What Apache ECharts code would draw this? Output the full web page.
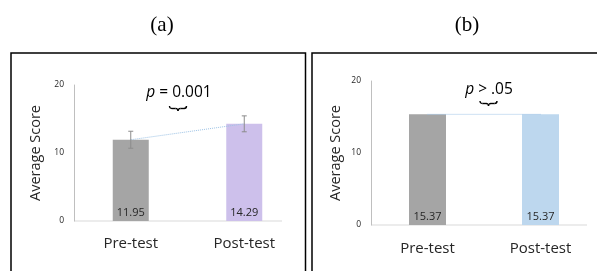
<!DOCTYPE html>
<html><head><meta charset="utf-8">
<script src="https://cdn.jsdelivr.net/npm/echarts@6/dist/echarts.min.js"></script>
<style>html,body{margin:0;padding:0;background:#fff}#c{width:597px;height:271px}</style>
</head><body><div id="c"></div>
<script>
var categories = ['Pre-test', 'Post-test'];
var scoresA = [11.95, 14.29];
var errorA = [1.25, 1.17];
var scoresB = [15.37, 15.37];
var yTicks = [0, 10, 20];
var pTextA = 'p = 0.001';
var pTextB = 'p > .05';

var FONT = '"Open Sans", "Noto Sans", sans-serif';
var chart = echarts.init(document.getElementById('c'), null, {renderer: 'canvas'});

function errItems(vals, errs) {
  return vals.map(function (v, i) { return [i, v - errs[i], v + errs[i]]; });
}
function renderErr(params, api) {
  var x = api.value(0);
  var p1 = api.coord([x, api.value(2)]);
  var p2 = api.coord([x, api.value(1)]);
  var cap = 2.5, st = {stroke: '#8c8c8c', lineWidth: 1};
  return {type: 'group', children: [
    {type: 'line', shape: {x1: p1[0], y1: p1[1], x2: p2[0], y2: p2[1]}, style: st},
    {type: 'line', shape: {x1: p1[0] - cap, y1: p1[1], x2: p1[0] + cap, y2: p1[1]}, style: st},
    {type: 'line', shape: {x1: p2[0] - cap, y1: p2[1], x2: p2[0] + cap, y2: p2[1]}, style: st}
  ]};
}

function xAxisDef(gi, m) {
  return {
    type: 'category', gridIndex: gi, data: categories,
    axisLine: {show: false}, axisTick: {show: false},
    axisLabel: {fontFamily: FONT, fontSize: 15, color: '#262626', margin: m}
  };
}
function yAxisDef(gi, gap) {
  return {
    type: 'value', gridIndex: gi, min: yTicks[0], max: yTicks[yTicks.length - 1], interval: 10,
    name: 'Average Score', nameLocation: 'middle', nameGap: gap,
    nameTextStyle: {fontFamily: FONT, fontSize: 14.5, color: '#262626'},
    axisLine: {show: true, lineStyle: {color: '#bfbfbf', width: 1}},
    axisTick: {show: false}, splitLine: {show: false},
    axisLabel: {fontFamily: FONT, fontSize: 8.5, color: '#262626', margin: 10}
  };
}
var barLabel = {show: true, position: 'insideBottom', distance: 3, fontFamily: FONT, fontSize: 11, color: '#262626'};

function brace(cx, cy) {
  var st = {fill: 'none', stroke: '#000', lineWidth: 1.4};
  function q(x1, y1, cpx, cpy, x2, y2) { return {type: 'bezierCurve', shape: {x1: x1, y1: y1, cpx1: cpx, cpy1: cpy, x2: x2, y2: y2}, style: st}; }
  function l(x1, y1, x2, y2) { return {type: 'line', shape: {x1: x1, y1: y1, x2: x2, y2: y2}, style: st}; }
  return {type: 'group', x: cx, y: cy, children: [
    q(-8.5, -2.5, -8.5, 0, -6, 0), l(-6, 0, -2.5, 0), q(-2.5, 0, 0, 0, 0, 2.5),
    q(0, 2.5, 0, 0, 2.5, 0), l(2.5, 0, 6, 0), q(6, 0, 8.5, 0, 8.5, -2.5)
  ]};
}

var option = {
  animation: false,
  backgroundColor: '#fff',
  title: [
    {text: '(a)', left: 157, top: 10, textAlign: 'center', textStyle: {fontFamily: '"Liberation Serif", serif', fontSize: 21, fontWeight: 'normal', color: '#000'}},
    {text: '(b)', left: 462, top: 10, textAlign: 'center', textStyle: {fontFamily: '"Liberation Serif", serif', fontSize: 21, fontWeight: 'normal', color: '#000'}}
  ],
  grid: [
    {left: 74, top: 85, width: 227, height: 136},
    {left: 371, top: 81, width: 234, height: 144}
  ],
  xAxis: [xAxisDef(0, 15), xAxisDef(1, 16)],
  yAxis: [yAxisDef(0, 31), yAxisDef(1, 28)],
  series: [
    {type: 'bar', xAxisIndex: 0, yAxisIndex: 0, barWidth: 36,
     data: scoresA.map(function (v, i) { return {value: v, itemStyle: {color: i === 0 ? '#a5a5a5' : '#cdc0eb'}}; }),
     label: Object.assign({}, barLabel, {formatter: function (p) { return p.value.toFixed(2); }})},
    {type: 'line', xAxisIndex: 0, yAxisIndex: 0, data: scoresA, symbol: 'none',
     lineStyle: {color: '#9dc3e6', type: 'dotted', width: 1}, z: 3},
    {type: 'custom', xAxisIndex: 0, yAxisIndex: 0, renderItem: renderErr, data: errItems(scoresA, errorA), z: 4},
    {type: 'bar', xAxisIndex: 1, yAxisIndex: 1, barWidth: 37,
     data: scoresB.map(function (v, i) { return {value: v, itemStyle: {color: i === 0 ? '#a5a5a5' : '#bdd7ee'}}; }),
     label: Object.assign({}, barLabel, {formatter: function (p) { return p.value.toFixed(2); }})},
    {type: 'line', xAxisIndex: 1, yAxisIndex: 1, data: scoresB, symbol: 'none',
     lineStyle: {color: '#9dc3e6', type: 'dotted', width: 1}, z: 3}
  ],
  graphic: [
    {type: 'rect', shape: {x: 11, y: 53, width: 294.5, height: 240}, style: {fill: 'none', stroke: '#000', lineWidth: 1.5}, z: 100},
    {type: 'rect', shape: {x: 312, y: 53, width: 300, height: 240}, style: {fill: 'none', stroke: '#000', lineWidth: 1.5}, z: 100},
    {type: 'line', shape: {x1: 74, y1: 221, x2: 282, y2: 221}, style: {stroke: '#d9d9d9', lineWidth: 1}},
    {type: 'line', shape: {x1: 371, y1: 225, x2: 587, y2: 225}, style: {stroke: '#d9d9d9', lineWidth: 1}},
    {type: 'text', x: 179, y: 93, style: {text: '{i|p} = 0.001', rich: {i: {fontStyle: 'italic', fontFamily: FONT, fontSize: 15.5, fill: '#000'}}, fontFamily: FONT, fontSize: 15.5, fill: '#000', align: 'center', verticalAlign: 'middle'}},
    brace(178, 108.5),
    {type: 'text', x: 489, y: 90, style: {text: '{i|p} > .05', rich: {i: {fontStyle: 'italic', fontFamily: FONT, fontSize: 15.5, fill: '#000'}}, fontFamily: FONT, fontSize: 15.5, fill: '#000', align: 'center', verticalAlign: 'middle'}},
    brace(488.5, 103.5)
  ]
};
chart.setOption(option);
</script>
</body></html>
